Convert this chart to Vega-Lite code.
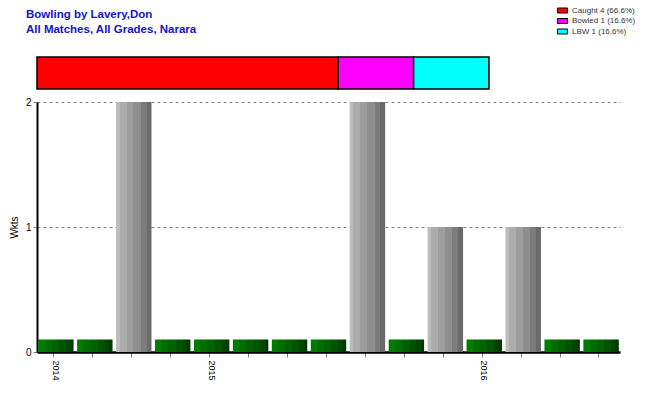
{
  "$schema": "https://vega.github.io/schema/vega-lite/v6.json",
  "width": 583,
  "height": 250,
  "autosize": {"type": "none"},
  "padding": {"left": 37, "top": 102, "right": 30, "bottom": 48},
  "background": "white",
  "config": {"view": {"stroke": null}, "font": "Liberation Sans"},
  "title": {
    "text": ["Bowling by Lavery,Don", "All Matches, All Grades, Narara"],
    "anchor": "start",
    "frame": "group",
    "dx": -11,
    "color": "#1414c8",
    "font": "Liberation Sans",
    "fontSize": 11.5,
    "fontWeight": "bold",
    "lineHeight": 15,
    "offset": -30
  },
  "datasets": {
    "matches": [
      {"match": 1, "wkts": 0},
      {"match": 2, "wkts": 0},
      {"match": 3, "wkts": 2},
      {"match": 4, "wkts": 0},
      {"match": 5, "wkts": 0},
      {"match": 6, "wkts": 0},
      {"match": 7, "wkts": 0},
      {"match": 8, "wkts": 0},
      {"match": 9, "wkts": 2},
      {"match": 10, "wkts": 0},
      {"match": 11, "wkts": 1},
      {"match": 12, "wkts": 0},
      {"match": 13, "wkts": 1},
      {"match": 14, "wkts": 0},
      {"match": 15, "wkts": 0}
    ],
    "dismissals": [
      {"label": "Caught 4 (66.6%)", "count": 4, "ord": 1},
      {"label": "Bowled 1 (16.6%)", "count": 1, "ord": 2},
      {"label": "LBW 1 (16.6%)", "count": 1, "ord": 3}
    ]
  },
  "layer": [
    {
      "data": {"name": "matches"},
      "encoding": {
        "x": {
          "field": "match",
          "type": "ordinal",
          "scale": {"paddingInner": 0.09, "paddingOuter": 0.03},
          "axis": {
            "title": null,
            "labelExpr": "datum.value == 1 ? '2014' : datum.value == 5 ? '2015' : datum.value == 12 ? '2016' : ''",
            "labelAngle": 90,
            "labelAlign": "left",
            "labelBaseline": "middle",
            "labelFontSize": 9,
            "labelColor": "#000000",
            "labelPadding": 3,
            "bandPosition": 0.44,
            "tickColor": "#808080",
            "tickSize": 5,
            "domainColor": "#000000",
            "domainWidth": 2.5,
            "grid": false
          }
        }
      },
      "layer": [
        {
          "transform": [{"filter": "datum.wkts > 0"}],
          "mark": {
            "type": "bar",
            "color": {
              "gradient": "linear", "x1": 0, "x2": 1, "y1": 0, "y2": 0,
              "stops": [
                {"offset": 0, "color": "#bcbcbc"},
                {"offset": 0.106, "color": "#bcbcbc"},
                {"offset": 0.106, "color": "#acacac"},
                {"offset": 0.3, "color": "#acacac"},
                {"offset": 0.3, "color": "#9e9e9e"},
                {"offset": 0.49, "color": "#9e9e9e"},
                {"offset": 0.49, "color": "#8e8e8e"},
                {"offset": 0.7, "color": "#8e8e8e"},
                {"offset": 0.7, "color": "#7c7c7c"},
                {"offset": 0.865, "color": "#7c7c7c"},
                {"offset": 0.865, "color": "#6a6a6a"},
                {"offset": 1, "color": "#6a6a6a"}
              ]
            }
          },
          "encoding": {
            "y": {
              "field": "wkts",
              "type": "quantitative",
              "scale": {"domain": [0, 2], "nice": false},
              "axis": {
                "title": "Wkts",
                "titleFontSize": 10,
                "titleFontWeight": "normal",
                "titleColor": "#000000",
                "titlePadding": 6,
                "values": [0, 1, 2],
                "labelExpr": "'' + round(datum.value)",
                "labelFontSize": 10,
                "labelColor": "#000000",
                "labelOverlap": false,
                "tickColor": "#808080",
                "tickSize": 4,
                "domainColor": "#000000",
                "domainWidth": 2,
                "grid": true,
                "gridColor": "#808080",
                "gridDash": [3, 3],
                "gridWidth": 1
              }
            }
          }
        },
        {
          "transform": [{"filter": "datum.wkts == 0"}],
          "mark": {
            "type": "bar",
            "color": {
              "gradient": "linear", "x1": 0, "x2": 1, "y1": 0, "y2": 0,
              "stops": [
                {"offset": 0, "color": "#007c00"},
                {"offset": 0.18, "color": "#007c00"},
                {"offset": 0.18, "color": "#006e00"},
                {"offset": 0.38, "color": "#006e00"},
                {"offset": 0.38, "color": "#006200"},
                {"offset": 0.58, "color": "#006200"},
                {"offset": 0.58, "color": "#005400"},
                {"offset": 0.78, "color": "#005400"},
                {"offset": 0.78, "color": "#004600"},
                {"offset": 0.9, "color": "#004600"},
                {"offset": 0.9, "color": "#003a00"},
                {"offset": 1, "color": "#003a00"}
              ]
            }
          },
          "encoding": {
            "y": {"datum": 0.1, "type": "quantitative"},
            "y2": {"datum": 0}
          }
        }
      ]
    },
    {
      "data": {"name": "dismissals"},
      "transform": [
        {"stack": "count", "groupby": [], "sort": [{"field": "ord", "order": "ascending"}], "as": ["start", "end"]}
      ],
      "mark": {"type": "bar", "stroke": "#000000", "strokeWidth": 1.5},
      "encoding": {
        "x": {
          "field": "start",
          "type": "quantitative",
          "scale": {"domain": [0, 7.74], "nice": false, "zero": true},
          "axis": null
        },
        "x2": {"field": "end"},
        "y": {"datum": 2.104, "type": "quantitative"},
        "y2": {"datum": 2.36},
        "color": {
          "field": "label",
          "type": "nominal",
          "scale": {
            "domain": ["Caught 4 (66.6%)", "Bowled 1 (16.6%)", "LBW 1 (16.6%)"],
            "range": ["#ff0000", "#ff00ff", "#00ffff"]
          },
          "legend": {
            "title": null,
            "orient": "none",
            "legendX": 520,
            "legendY": -97,
            "symbolType": "M-1,-0.5H1V0.5H-1Z",
            "symbolSize": 100,
            "symbolStrokeColor": "#000000",
            "symbolStrokeWidth": 1,
            "symbolOpacity": 1,
            "labelFontSize": 8,
            "labelColor": "#333333",
            "labelOffset": 4,
            "rowPadding": 0.5
          }
        }
      }
    }
  ],
  "resolve": {"scale": {"x": "independent", "color": "independent"}}
}
